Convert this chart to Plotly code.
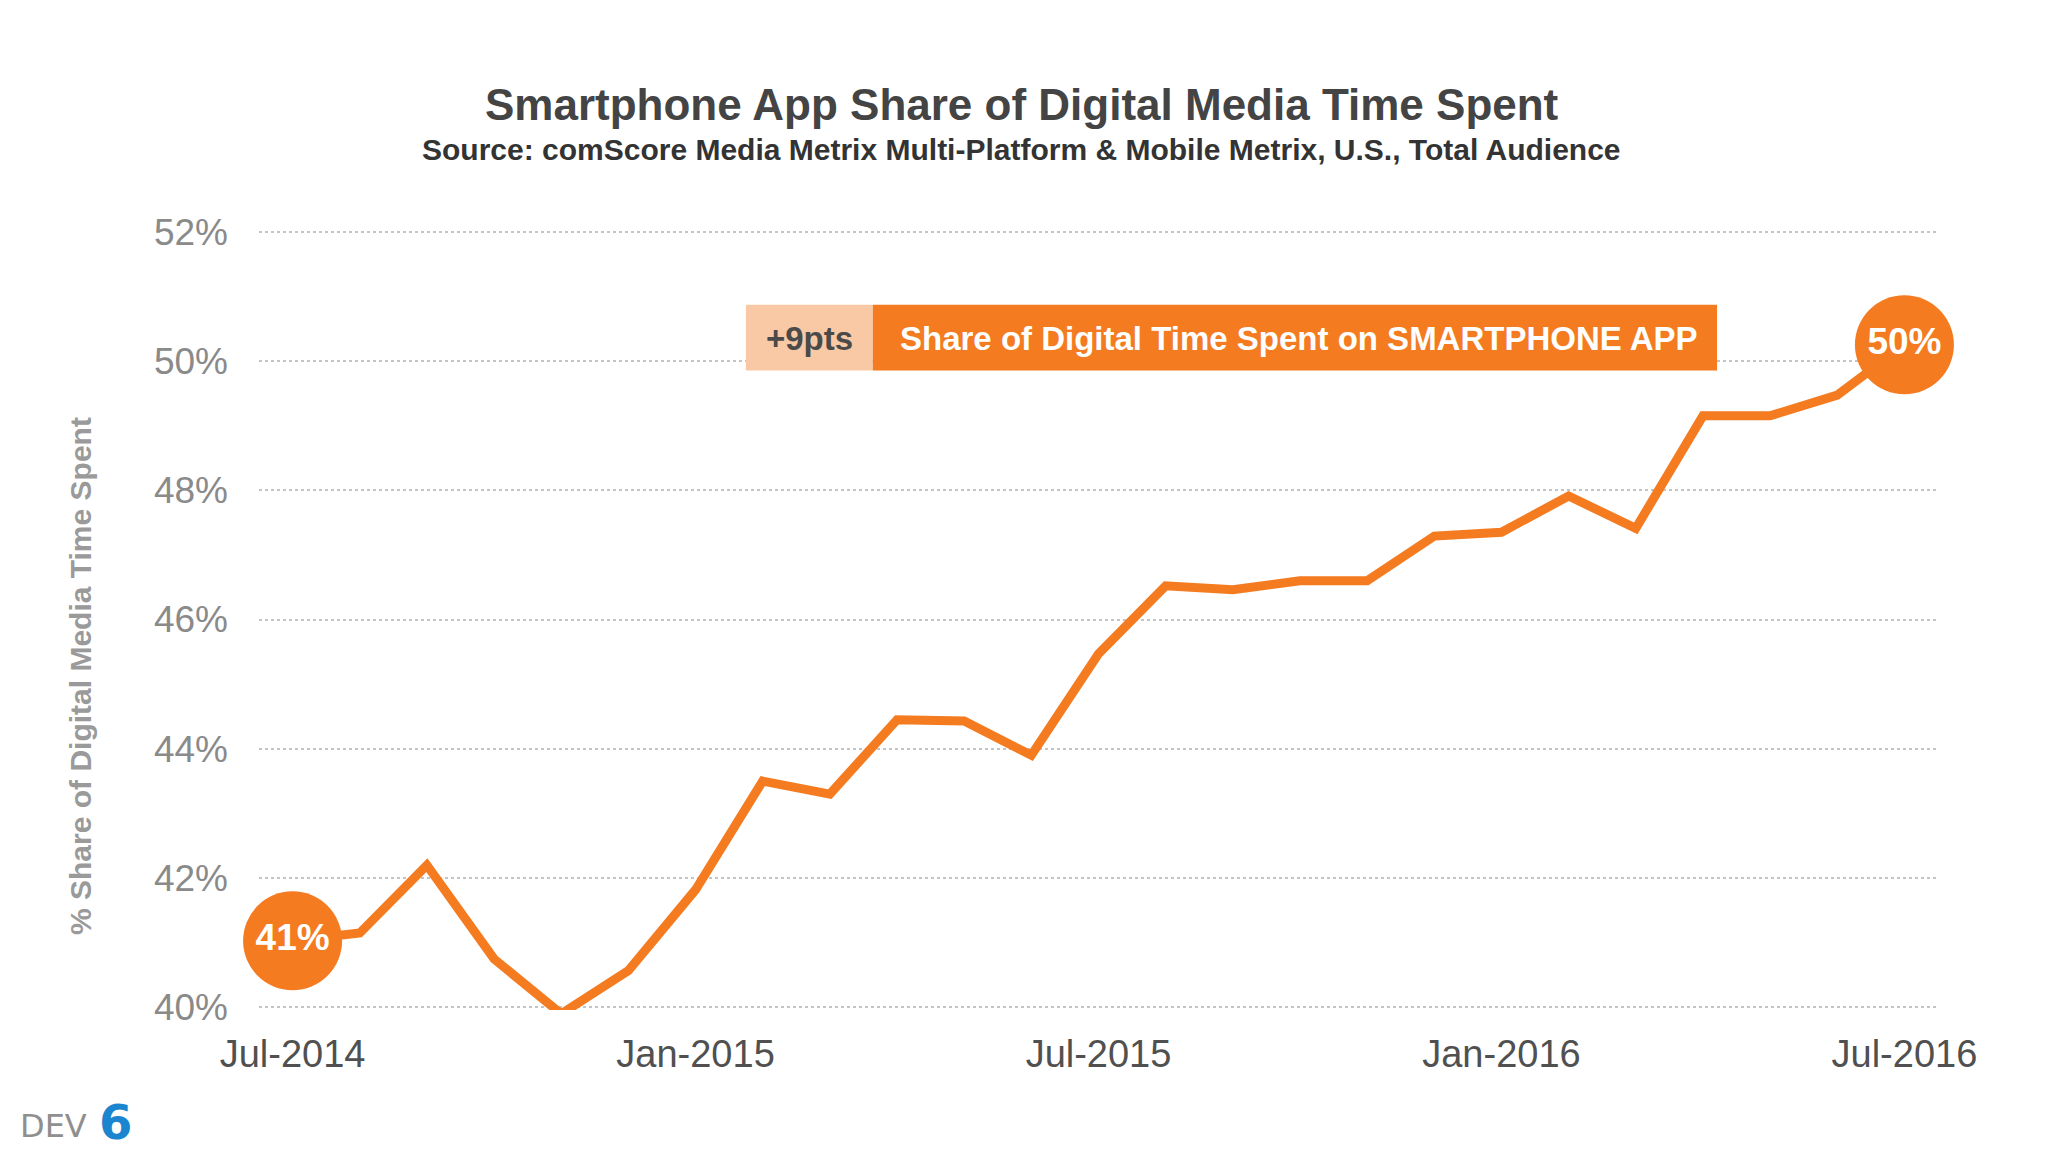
import plotly.graph_objects as go

months = ["Jul-2014", "Aug-2014", "Sep-2014", "Oct-2014", "Nov-2014", "Dec-2014",
          "Jan-2015", "Feb-2015", "Mar-2015", "Apr-2015", "May-2015", "Jun-2015",
          "Jul-2015", "Aug-2015", "Sep-2015", "Oct-2015", "Nov-2015", "Dec-2015",
          "Jan-2016", "Feb-2016", "Mar-2016", "Apr-2016", "May-2016", "Jun-2016",
          "Jul-2016"]
share = [41.03, 41.15, 42.2, 40.75, 39.9, 40.57,
         41.82, 43.5, 43.3, 44.45, 44.43, 43.9,
         45.47, 46.52, 46.46, 46.6, 46.6, 47.29,
         47.35, 47.91, 47.41, 49.15, 49.15, 49.47,
         50.25]
tick_labels = ["Jul-2014", "Jan-2015", "Jul-2015", "Jan-2016", "Jul-2016"]
y_ticks = [40, 42, 44, 46, 48, 50, 52]
callout_months = [months[0], months[-1]]
callout_values = [share[0], share[-1]]
callout_text = ["41%", "50%"]

ORANGE = "#F47B20"
PEACH = "#F8C9A4"
FONT = "Liberation Sans, Arial, sans-serif"

fig = go.Figure()
fig.add_trace(go.Scatter(
    x=months, y=share, mode="lines",
    line=dict(color=ORANGE, width=9),
    hoverinfo="skip", showlegend=False,
))
fig.add_trace(go.Scatter(
    x=callout_months, y=callout_values, mode="markers+text",
    marker=dict(color=ORANGE, size=99, line=dict(width=0)),
    text=callout_text, textposition="middle center",
    textfont=dict(family=FONT, size=37, color="white", weight="bold"),
    cliponaxis=False, showlegend=False, hoverinfo="skip",
))

# callout box
fig.add_shape(type="rect", xref="x", yref="y", x0=6.75, x1=8.64, y0=49.85, y1=50.87,
              fillcolor=PEACH, line=dict(width=0), layer="above")
fig.add_shape(type="rect", xref="x", yref="y", x0=8.64, x1=21.21, y0=49.85, y1=50.87,
              fillcolor=ORANGE, line=dict(width=0), layer="above")
fig.add_annotation(x=7.695, y=50.34, xref="x", yref="y", text="<b>+9pts</b>",
                   showarrow=False, font=dict(family=FONT, size=33, color="#4a4a4a"))
fig.add_annotation(x=14.99, y=50.34, xref="x", yref="y",
                   text="<b>Share of Digital Time Spent on SMARTPHONE APP</b>",
                   showarrow=False, font=dict(family=FONT, size=33, color="white"))

# titles
fig.add_annotation(x=0.4544, y=1.1588, xref="paper", yref="paper", xanchor="center", yanchor="middle",
                   text="<b>Smartphone App Share of Digital Media Time Spent</b>",
                   showarrow=False, font=dict(family=FONT, size=44, color="#444444"))
fig.add_annotation(x=0.4544, y=1.1018, xref="paper", yref="paper", xanchor="center", yanchor="middle",
                   text="<b>Source: comScore Media Metrix Multi-Platform &amp; Mobile Metrix, U.S., Total Audience</b>",
                   showarrow=False, font=dict(family=FONT, size=30, color="#333333"))
fig.add_annotation(x=-0.106, y=0.4277, xref="paper", yref="paper", xanchor="center", yanchor="middle",
                   text="<b>% Share of Digital Media Time Spent</b>", textangle=-90,
                   showarrow=False, font=dict(family=FONT, size=30, color="#9a9a9a"))
# logo
fig.add_annotation(x=-0.1438, y=-0.1485, xref="paper", yref="paper", xanchor="left", yanchor="middle",
                   text="DEV", showarrow=False,
                   font=dict(family="DejaVu Sans, sans-serif", size=32, color="#8f8f8f"))
fig.add_annotation(x=-0.0962, y=-0.1435, xref="paper", yref="paper", xanchor="left", yanchor="middle",
                   text="<b>6</b>", showarrow=False,
                   font=dict(family="DejaVu Sans, sans-serif", size=48, color="#1B86CF"))

fig.update_layout(
    width=2040, height=1144,
    margin=dict(l=251, r=110, t=221, b=142, pad=0),
    paper_bgcolor="white", plot_bgcolor="white",
    font=dict(family=FONT),
    showlegend=False,
    xaxis=dict(
        type="category", range=[-0.5, 24.5],
        tickmode="array", tickvals=tick_labels, ticktext=tick_labels,
        showgrid=False, zeroline=False, showline=False, ticks="",
        tickfont=dict(family=FONT, size=38, color="#505050"),
        ticklabelstandoff=18,
    ),
    yaxis=dict(
        range=[39.96, 52.04], tickmode="array", tickvals=y_ticks,
        ticktext=[f"{v}%" for v in y_ticks],
        showgrid=True, gridcolor="#c4c4c4", gridwidth=2, griddash="dot",
        zeroline=False, showline=False, ticks="",
        tickfont=dict(family=FONT, size=37, color="#8a8a8a"),
        ticklabelstandoff=30,
    ),
)

fig.write_html("out.html")
